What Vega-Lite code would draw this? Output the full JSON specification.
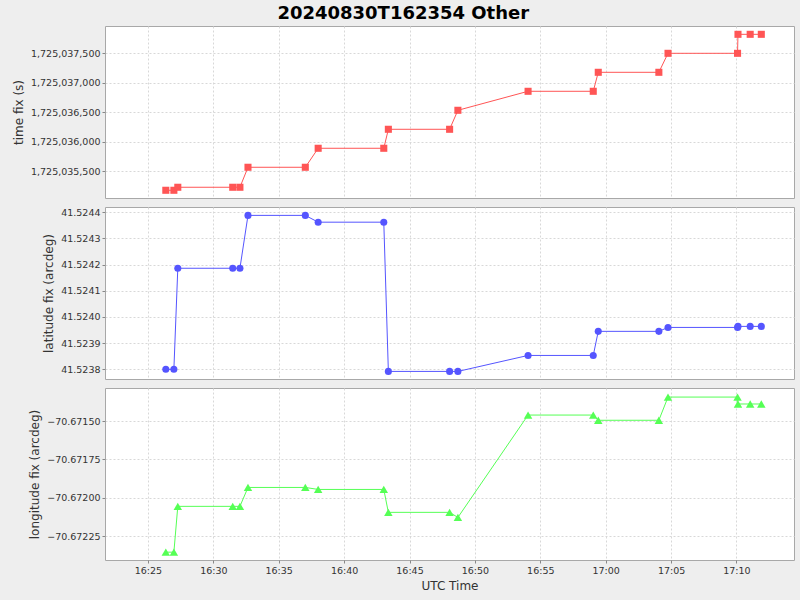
{
  "$schema": "https://vega.github.io/schema/vega-lite/v6.json",
  "padding": {"left": 11, "top": 4, "right": 6, "bottom": 12},
  "background": "#EEEEEE",
  "title": {"text": "20240830T162354 Other", "font": "DejaVu Sans", "fontSize": 18, "fontWeight": "bold", "color": "#000000", "anchor": "middle", "offset": 3},
  "data": {"values": [
    {"t": "2024-08-30T16:26:22Z", "tfix": 1725035178, "lat": 41.523800, "lon": -70.672353},
    {"t": "2024-08-30T16:26:59Z", "tfix": 1725035178, "lat": 41.523800, "lon": -70.672353},
    {"t": "2024-08-30T16:27:17Z", "tfix": 1725035229, "lat": 41.524186, "lon": -70.672055},
    {"t": "2024-08-30T16:31:29Z", "tfix": 1725035229, "lat": 41.524186, "lon": -70.672055},
    {"t": "2024-08-30T16:32:02Z", "tfix": 1725035229, "lat": 41.524186, "lon": -70.672055},
    {"t": "2024-08-30T16:32:39Z", "tfix": 1725035568, "lat": 41.524388, "lon": -70.671932},
    {"t": "2024-08-30T16:37:02Z", "tfix": 1725035568, "lat": 41.524388, "lon": -70.671932},
    {"t": "2024-08-30T16:38:01Z", "tfix": 1725035890, "lat": 41.524362, "lon": -70.671945},
    {"t": "2024-08-30T16:43:02Z", "tfix": 1725035890, "lat": 41.524362, "lon": -70.671945},
    {"t": "2024-08-30T16:43:23Z", "tfix": 1725036212, "lat": 41.523792, "lon": -70.672094},
    {"t": "2024-08-30T16:48:04Z", "tfix": 1725036212, "lat": 41.523792, "lon": -70.672094},
    {"t": "2024-08-30T16:48:42Z", "tfix": 1725036534, "lat": 41.523792, "lon": -70.672127},
    {"t": "2024-08-30T16:54:04Z", "tfix": 1725036856, "lat": 41.523853, "lon": -70.671461},
    {"t": "2024-08-30T16:59:03Z", "tfix": 1725036856, "lat": 41.523853, "lon": -70.671461},
    {"t": "2024-08-30T16:59:26Z", "tfix": 1725037178, "lat": 41.523945, "lon": -70.671495},
    {"t": "2024-08-30T17:04:04Z", "tfix": 1725037178, "lat": 41.523945, "lon": -70.671495},
    {"t": "2024-08-30T17:04:46Z", "tfix": 1725037500, "lat": 41.523960, "lon": -70.671344},
    {"t": "2024-08-30T17:10:05Z", "tfix": 1725037500, "lat": 41.523960, "lon": -70.671344},
    {"t": "2024-08-30T17:10:07Z", "tfix": 1725037822, "lat": 41.523964, "lon": -70.671389},
    {"t": "2024-08-30T17:11:03Z", "tfix": 1725037822, "lat": 41.523964, "lon": -70.671389},
    {"t": "2024-08-30T17:11:54Z", "tfix": 1725037822, "lat": 41.523964, "lon": -70.671389}
  ]},
  "spacing": 7,
  "vconcat": [
    {
      "width": 689, "height": 172,
      "encoding": {
        "x": {"field": "t", "type": "temporal",
          "scale": {"type": "utc", "domain": ["2024-08-30T16:21:43Z", "2024-08-30T17:14:24Z"]},
          "axis": {"labels": false, "ticks": false, "title": null}},
        "y": {"field": "tfix", "type": "quantitative",
          "scale": {"domain": [1725035047, 1725037963], "nice": false, "zero": false},
          "axis": {"title": "time fix (s)", "format": ",d", "values": [1725035500, 1725036000, 1725036500, 1725037000, 1725037500]}}
      },
      "layer": [
        {"mark": {"type": "line", "color": "#FF5555", "strokeWidth": 1}},
        {"mark": {"type": "point", "shape": "square", "filled": true, "size": 50, "color": "#FF5555", "opacity": 1}}
      ]
    },
    {
      "width": 689, "height": 172,
      "encoding": {
        "x": {"field": "t", "type": "temporal",
          "scale": {"type": "utc", "domain": ["2024-08-30T16:21:43Z", "2024-08-30T17:14:24Z"]},
          "axis": {"labels": false, "ticks": false, "title": null}},
        "y": {"field": "lat", "type": "quantitative",
          "scale": {"domain": [41.523763, 41.524420], "nice": false, "zero": false},
          "axis": {"title": "latitude fix (arcdeg)", "format": ".4f", "values": [41.5238, 41.5239, 41.524, 41.5241, 41.5242, 41.5243, 41.5244]}}
      },
      "layer": [
        {"mark": {"type": "line", "color": "#5555FF", "strokeWidth": 1}},
        {"mark": {"type": "point", "shape": "circle", "filled": true, "size": 50, "color": "#5555FF", "opacity": 1}}
      ]
    },
    {
      "width": 689, "height": 172,
      "encoding": {
        "x": {"field": "t", "type": "temporal",
          "scale": {"type": "utc", "domain": ["2024-08-30T16:21:43Z", "2024-08-30T17:14:24Z"]},
          "axis": {"title": "UTC Time", "format": "%H:%M", "labelFlush": false, "titlePadding": 6}},
        "y": {"field": "lon", "type": "quantitative",
          "scale": {"domain": [-70.672404, -70.671285], "nice": false, "zero": false},
          "axis": {"title": "longitude fix (arcdeg)", "format": ".5f", "values": [-70.67225, -70.672, -70.67175, -70.6715]}}
      },
      "layer": [
        {"mark": {"type": "line", "color": "#55FF55", "strokeWidth": 1}},
        {"mark": {"type": "point", "shape": "triangle-up", "filled": true, "size": 72, "color": "#55FF55", "opacity": 1}}
      ]
    }
  ],
  "config": {
    "view": {"fill": "#FFFFFF", "stroke": "#A8A8A8", "strokeWidth": 1},
    "axis": {
      "labelFont": "DejaVu Sans", "labelFontSize": 9.5, "labelColor": "#333333",
      "titleFont": "DejaVu Sans", "titleFontSize": 12, "titleFontWeight": "normal", "titleColor": "#333333",
      "gridColor": "#D8D8D8", "gridDash": [2, 2], "gridWidth": 1,
      "tickColor": "#888888", "tickSize": 3, "labelPadding": 2, "domain": false, "titlePadding": 5
    }
  }
}
